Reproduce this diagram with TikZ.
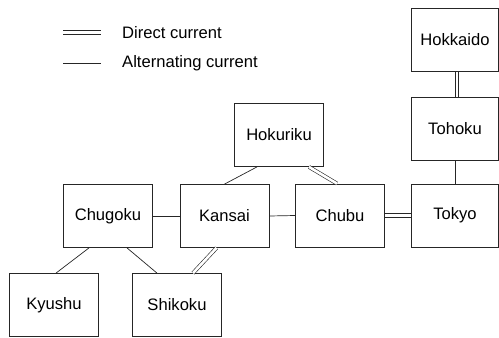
\documentclass[tikz,border=0pt]{standalone}
\usepackage{fontspec}
\setmainfont{Liberation Sans}
\begin{document}
\begin{tikzpicture}[x=1pt,y=-1pt,
  region/.style={draw=black!85,line width=0.8pt,minimum width=89pt,minimum height=63pt,inner sep=0pt,font=\fontsize{16.6}{19}\selectfont},
  ac/.style={draw=black!85,line width=0.7pt},
  dc/.style={draw=black!85,line width=0.6pt,double=white,double distance=2.6pt},
  lbl/.style={anchor=west,inner sep=0pt,font=\fontsize{16.6}{19}\selectfont}]
\useasboundingbox (0,0) rectangle (499,338);
% legend
\coordinate (d1) at (63,32.5); \coordinate (d2) at (101,32.5);
\coordinate (a1) at (63,63); \coordinate (a2) at (101,63);
\draw[ac] ([yshift=-1.9pt]d1) -- ([yshift=-1.9pt]d2);
\draw[ac] ([yshift=1.9pt]d1) -- ([yshift=1.9pt]d2);
\draw[ac] (a1) -- (a2);
\node[lbl] (ldc) at (122,33) {Direct current};
\node[lbl] (lac) at (122,63) {Alternating current};
% regions
\node[region,minimum width=87pt] (hokkaido) at (455,40) {Hokkaido};
\node[region,minimum width=87pt] (tohoku) at (455,128.5) {Tohoku};
\node[region,minimum width=87pt] (tokyo) at (455,215.5) {Tokyo};
\node[region] (chubu) at (340,215.5) {Chubu};
\node[region] (kansai) at (224.5,216) {Kansai};
\node[region] (hokuriku) at (279,135) {Hokuriku};
\node[region] (chugoku) at (108,216) {Chugoku};
\node[region] (kyushu) at (54,305) {Kyushu};
\node[region] (shikoku) at (177,305) {Shikoku};
% connections
\draw[dc] ([xshift=2pt]hokkaido.south) -- ([xshift=2pt]tohoku.north);
\draw[ac] (tohoku.south) -- (tokyo.north);
\draw[ac] ([yshift=-1.9pt]chubu.east) -- ([yshift=-1.9pt]tokyo.west);
\draw[ac] ([yshift=1.9pt]chubu.east) -- ([yshift=1.9pt]tokyo.west);
\draw[ac] (kansai.east) -- (chubu.west);
\draw[ac] (chugoku.east) -- (kansai.west);
\draw[ac] ([xshift=-22pt]hokuriku.south) -- (kansai.north);
\draw[dc] ([xshift=30pt]hokuriku.south) -- ([xshift=-3pt]chubu.north);
\draw[ac] ([xshift=-19pt]chugoku.south) -- ([xshift=2pt]kyushu.north);
\draw[ac] ([xshift=19pt]chugoku.south) -- ([xshift=-20pt]shikoku.north);
\draw[dc] ([xshift=-8pt]kansai.south) -- ([xshift=16pt]shikoku.north);
\end{tikzpicture}
\end{document}
